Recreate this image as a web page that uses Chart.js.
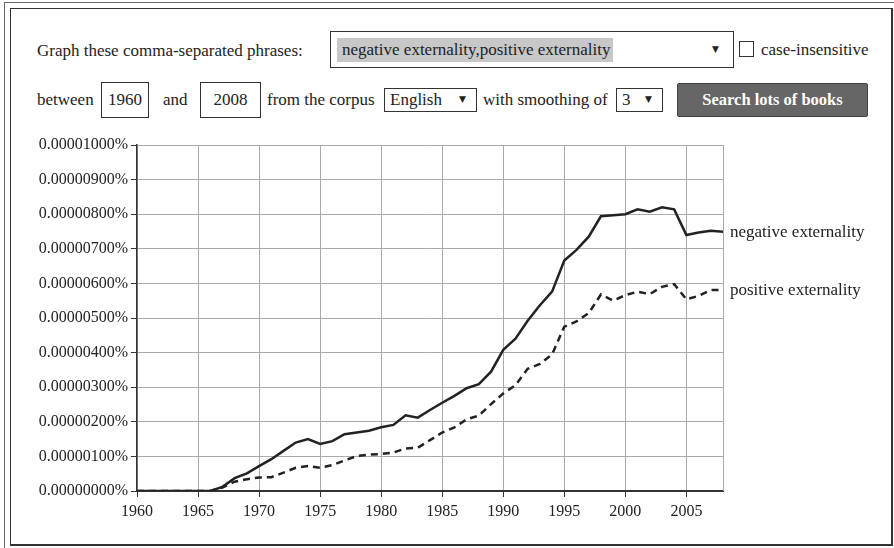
<!DOCTYPE html>
<html>
<head>
<meta charset="utf-8">
<script src="https://cdn.jsdelivr.net/npm/chart.js@4"></script>
<style>
    * { font-family: "Liberation Serif", "DejaVu Serif", serif; }
    body { margin: 0; width: 894px; height: 548px; overflow: hidden; background: #fff; color: #222; }
    .abs { position: absolute; white-space: nowrap; }
    .txt { font-size: 17px; line-height: 20px; }
    .box { border: 1px solid #333; box-sizing: border-box; background: #fff; }
    .arrow { font-size: 9px; font-family: "DejaVu Sans", sans-serif; }
</style>
</head>
<body>
<div class="abs" style="left:4px;top:2px;width:900px;height:560px;border:1px solid #666;"></div>
<div class="abs" style="left:10px;top:8px;width:883px;height:538px;border:1px solid #333;border-right-width:2px;border-bottom-width:2px;box-sizing:border-box;"></div>

<!-- query form -->
<div class="abs txt" style="left:37px;top:41px;">Graph these comma-separated phrases:</div>
<div class="abs box" style="left:330px;top:31px;width:404px;height:37px;"></div>
<div class="abs txt" style="left:337px;top:38px;width:276px;height:24px;line-height:24px;background:#c8c8c8;padding-left:5px;box-sizing:border-box;">negative externality,positive externality</div>
<div class="abs arrow" style="left:712px;top:44px;">&#9660;</div>
<div class="abs box" style="left:739px;top:41px;width:15px;height:16px;"></div>
<div class="abs txt" style="left:761px;top:40px;">case-insensitive</div>

<div class="abs txt" style="left:37px;top:90px;">between</div>
<div class="abs box txt" style="left:101px;top:82px;width:48px;height:36px;line-height:34px;text-align:center;">1960</div>
<div class="abs txt" style="left:163px;top:90px;">and</div>
<div class="abs box txt" style="left:200px;top:82px;width:61px;height:36px;line-height:34px;text-align:center;">2008</div>
<div class="abs txt" style="left:267px;top:90px;">from the corpus</div>
<div class="abs box txt" style="left:384px;top:88px;width:93px;height:24px;line-height:22px;padding-left:5px;">English</div>
<div class="abs arrow" style="left:459px;top:94px;">&#9660;</div>
<div class="abs txt" style="left:483px;top:90px;">with smoothing of</div>
<div class="abs box txt" style="left:616px;top:88px;width:47px;height:24px;line-height:22px;padding-left:5px;">3</div>
<div class="abs arrow" style="left:645px;top:94px;">&#9660;</div>
<div class="abs" style="left:677px;top:83px;width:191px;height:34px;background:#666;border:1px solid #444;box-sizing:border-box;border-radius:2px;color:#fff;font-weight:bold;font-size:16.5px;line-height:32px;text-align:center;">Search lots of books</div>

<div class="abs" style="left:0;top:130px;">
    <canvas id="ngram-chart" width="894" height="418"></canvas>
</div>

<script>
// years on the x axis
const years = [];
for (let y = 1960; y <= 2008; y++) years.push(y);

// frequencies in units of 0.000001 %
const negativeValues = [
    0, 0, 0, 0, 0, 0, 0, 0.12, 0.37, 0.51,
    0.72, 0.92, 1.16, 1.40, 1.50, 1.36, 1.44, 1.64, 1.69, 1.74,
    1.84, 1.91, 2.19, 2.12, 2.34, 2.55, 2.75, 2.97, 3.09, 3.45,
    4.08, 4.40, 4.92, 5.37, 5.76, 6.66, 6.97, 7.35, 7.94, 7.97,
    8.00, 8.14, 8.07, 8.20, 8.14, 7.40, 7.47, 7.52, 7.49
];
const positiveValues = [
    0, 0, 0, 0, 0, 0, 0, 0.10, 0.27, 0.34,
    0.39, 0.40, 0.53, 0.67, 0.72, 0.67, 0.75, 0.88, 1.01, 1.05,
    1.07, 1.11, 1.23, 1.25, 1.47, 1.69, 1.84, 2.07, 2.18, 2.51,
    2.82, 3.06, 3.53, 3.67, 3.95, 4.75, 4.90, 5.14, 5.68, 5.50,
    5.66, 5.76, 5.69, 5.90, 5.98, 5.54, 5.64, 5.81, 5.81
];
const seriesLabels = ['negative externality', 'positive externality'];

const FONT = '"Liberation Serif", serif';

// right edge of the plot plus the phrase written at the end of each line
const endLabels = {
    id: 'endLabels',
    beforeDatasetsDraw(chart) {
        const { ctx, chartArea } = chart;
        ctx.save();
        ctx.strokeStyle = '#aaa';
        ctx.lineWidth = 1;
        ctx.beginPath();
        ctx.moveTo(Math.round(chartArea.right) + 0.5, chartArea.top);
        ctx.lineTo(Math.round(chartArea.right) + 0.5, chartArea.bottom);
        ctx.stroke();
        ctx.restore();
    },
    afterDatasetsDraw(chart) {
        const ctx = chart.ctx;
        ctx.save();
        ctx.font = '17px ' + FONT;
        ctx.fillStyle = '#222';
        ctx.textBaseline = 'middle';
        chart.data.datasets.forEach((ds, i) => {
            const pts = chart.getDatasetMeta(i).data;
            const last = pts[pts.length - 1];
            ctx.fillText(ds.label, chart.chartArea.right + 7, last.y + 1);
        });
        ctx.restore();
    }
};

const ctx = document.getElementById('ngram-chart').getContext('2d');
new Chart(ctx, {
    type: 'line',
    data: {
        datasets: [
            {
                label: seriesLabels[0],
                data: years.map((y, i) => ({ x: y, y: negativeValues[i] })),
                borderColor: '#222',
                borderWidth: 2.5,
                pointRadius: 0,
                tension: 0
            },
            {
                label: seriesLabels[1],
                data: years.map((y, i) => ({ x: y, y: positiveValues[i] })),
                borderColor: '#222',
                borderWidth: 2.5,
                borderDash: [7, 5],
                pointRadius: 0,
                tension: 0
            }
        ]
    },
    options: {
        responsive: false,
        animation: false,
        devicePixelRatio: 1,
        layout: { padding: { left: 30, right: 171, top: 15, bottom: 20 } },
        plugins: {
            legend: { display: false },
            tooltip: { enabled: false }
        },
        scales: {
            x: {
                type: 'linear',
                min: 1960,
                max: 2008,
                afterFit: (scale) => { scale.height = 37; },
                ticks: {
                    stepSize: 5,
                    includeBounds: false,
                    autoSkip: false,
                    color: '#222',
                    font: { family: FONT, size: 16 },
                    padding: 5,
                    maxRotation: 0,
                    callback: (v) => String(v)
                },
                grid: { color: '#aaa', tickColor: '#333', tickLength: 6 },
                border: { color: '#333', width: 2 }
            },
            y: {
                min: 0,
                max: 10,
                afterFit: (scale) => { scale.width = 107; },
                ticks: {
                    stepSize: 1,
                    color: '#222',
                    font: { family: FONT, size: 16 },
                    padding: 3,
                    callback: (v) => (v * 1e-6).toFixed(8) + '%'
                },
                grid: { color: '#aaa', tickColor: '#333', tickLength: 6 },
                border: { color: '#333', width: 1.5 }
            }
        }
    },
    plugins: [endLabels]
});
</script>
</body>
</html>
